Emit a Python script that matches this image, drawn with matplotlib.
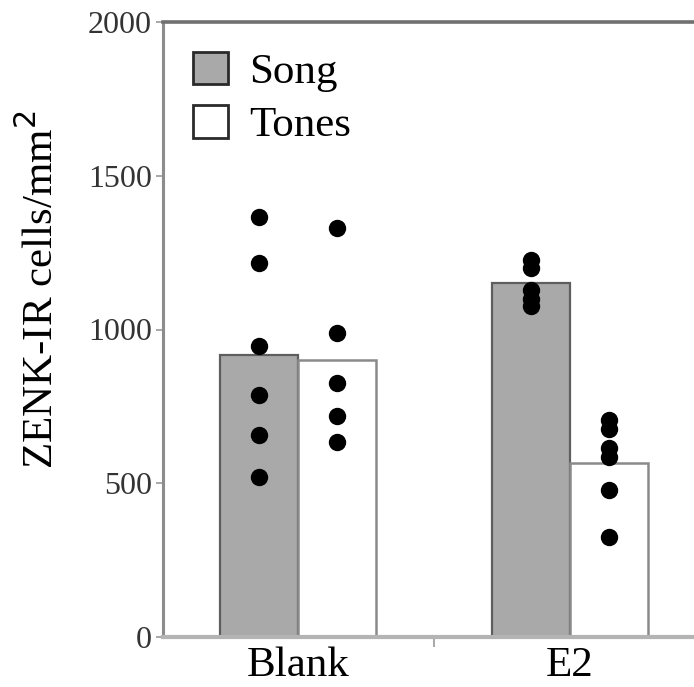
import matplotlib.pyplot as plt
import numpy as np

# data
groups = ['Blank', 'E2']
song_means = [917, 1151]
tones_means = [900, 566]
song_pts = [[1366, 1216, 946, 787, 657, 520],
            [1225, 1200, 1130, 1100, 1075]]
tones_pts = [[1330, 989, 826, 719, 634],
             [705, 675, 615, 585, 478, 325]]
yticks = [0, 500, 1000, 1500, 2000]

plt.rcParams['font.family'] = ['Liberation Serif', 'DejaVu Serif']

fig = plt.figure(figsize=(6.94, 6.87), dpi=100)
ax = fig.add_axes([163 / 694, 50 / 687, (694 - 163) / 694, 615 / 687])

x = np.arange(len(groups))
w = 0.287
ax.bar(x - w / 2, song_means, w, color='#a9a9a9', edgecolor='#5e5e5e',
       linewidth=1.6, label='Song', zorder=2)
ax.bar(x + w / 2, tones_means, w, color='white', edgecolor='#8a8a8a',
       linewidth=1.8, label='Tones', zorder=2)

for i in range(len(groups)):
    ax.plot([x[i] - w / 2] * len(song_pts[i]), song_pts[i], 'o', color='black',
            markersize=11.5, zorder=3)
    ax.plot([x[i] + w / 2] * len(tones_pts[i]), tones_pts[i], 'o', color='black',
            markersize=11.5, zorder=3)

ax.set_xlim(-0.496, 1.456)
ax.set_ylim(0, 2000)

ax.spines['right'].set_visible(False)
ax.spines['left'].set_color('#8c8c8c')
ax.spines['left'].set_linewidth(2.2)
ax.spines['top'].set_color('#707070')
ax.spines['top'].set_linewidth(2.6)
ax.spines['bottom'].set_color('#b4b4b4')
ax.spines['bottom'].set_linewidth(3)

ax.set_yticks(yticks)
ax.set_yticklabels([str(t) for t in yticks], fontsize=23, color='#333333')
ax.tick_params(axis='y', length=5, width=1.2, color='#9a9a9a', pad=3)

ax.set_xticks([0.5])
ax.set_xticklabels([''])
ax.tick_params(axis='x', length=7, width=1.2, color='#9a9a9a', direction='out')
for i, g in enumerate(groups):
    ax.text(x[i], -30, g, ha='center', va='top', fontsize=31,
            transform=ax.transData, clip_on=False)

ax.set_ylabel('ZENK-IR cells/mm$^2$', fontsize=31)
ax.yaxis.set_label_coords(-0.19, 0.565)

leg = ax.legend(loc='upper left', bbox_to_anchor=(0.025, 0.98), frameon=False,
                fontsize=31, handlelength=0.8, handleheight=0.8,
                handletextpad=0.5, labelspacing=0.3, borderaxespad=0)
for h in leg.legend_handles:
    h.set_edgecolor('#2a2a2a')
    h.set_linewidth(2)

fig.savefig('out.png', dpi=100)
